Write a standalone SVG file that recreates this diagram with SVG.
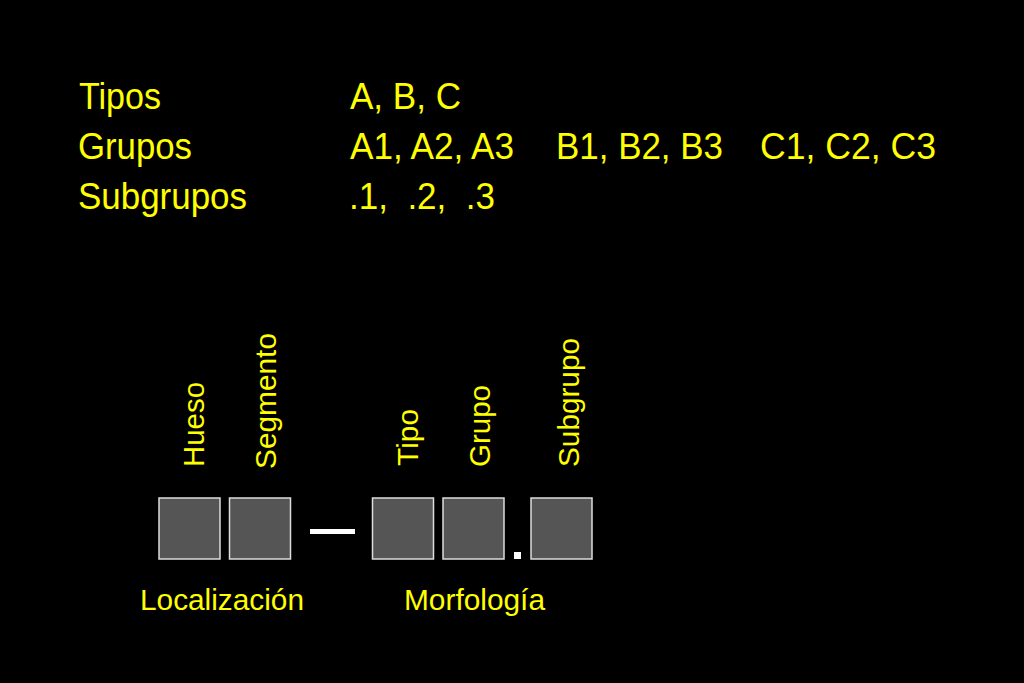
<svg xmlns="http://www.w3.org/2000/svg" width="1024" height="683" viewBox="0 0 1024 683">
<style>
text{font-family:"Liberation Sans",Arial,sans-serif;fill:#ffff00}
.big{font-size:36px}
.lbl{font-size:30px}
.box{fill:#555555;stroke:#dddddd;stroke-width:1.5}
.mark{fill:#ffffff}
</style>
<rect width="1024" height="683" fill="#000000"/>
<g id="table">
<text class="big" x="79" y="109" textLength="82" lengthAdjust="spacingAndGlyphs">Tipos</text>
<text class="big" x="78" y="159" textLength="114" lengthAdjust="spacingAndGlyphs">Grupos</text>
<text class="big" x="78" y="209" textLength="169" lengthAdjust="spacingAndGlyphs">Subgrupos</text>
<text class="big" x="350" y="109" textLength="111" lengthAdjust="spacingAndGlyphs">A, B, C</text>
<text class="big" x="350" y="159" textLength="164" lengthAdjust="spacingAndGlyphs">A1, A2, A3</text>
<text class="big" x="556" y="159" textLength="167" lengthAdjust="spacingAndGlyphs">B1, B2, B3</text>
<text class="big" x="760" y="159" textLength="176" lengthAdjust="spacingAndGlyphs">C1, C2, C3</text>
<text class="big" x="349" y="209" textLength="146" lengthAdjust="spacingAndGlyphs" xml:space="preserve">.1,  .2,  .3</text>
</g>
<g id="hueso">
<rect class="box" x="159" y="498" width="61" height="61"/>
<text class="lbl" transform="translate(204,467) rotate(-90)" textLength="85" lengthAdjust="spacingAndGlyphs">Hueso</text>
</g>
<g id="segmento">
<rect class="box" x="229.5" y="498" width="61" height="61"/>
<text class="lbl" transform="translate(276,469) rotate(-90)" textLength="136" lengthAdjust="spacingAndGlyphs">Segmento</text>
</g>
<g id="tipo">
<rect class="box" x="372.5" y="498" width="61" height="61"/>
<text class="lbl" transform="translate(418,466) rotate(-90)" textLength="57" lengthAdjust="spacingAndGlyphs">Tipo</text>
</g>
<g id="grupo">
<rect class="box" x="443" y="498" width="61" height="61"/>
<text class="lbl" transform="translate(490,467) rotate(-90)" textLength="82" lengthAdjust="spacingAndGlyphs">Grupo</text>
</g>
<g id="subgrupo">
<rect class="box" x="531" y="498" width="61" height="61"/>
<text class="lbl" transform="translate(579,467) rotate(-90)" textLength="129" lengthAdjust="spacingAndGlyphs">Subgrupo</text>
</g>
<g id="separators">
<rect class="mark" x="310" y="529" width="45" height="5"/>
<rect class="mark" x="514" y="552" width="7" height="7"/>
</g>
<g id="captions">
<text class="lbl" x="140" y="610" textLength="164" lengthAdjust="spacingAndGlyphs">Localización</text>
<text class="lbl" x="404" y="610" textLength="141" lengthAdjust="spacingAndGlyphs">Morfología</text>
</g>
</svg>
